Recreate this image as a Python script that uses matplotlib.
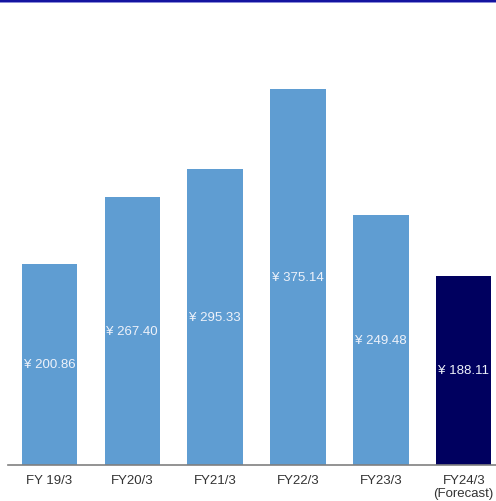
import matplotlib.pyplot as plt
from matplotlib.patches import Rectangle

plt.rcParams['font.family'] = ['Liberation Sans', 'DejaVu Sans']

years = ["FY 19/3", "FY20/3", "FY21/3", "FY22/3", "FY23/3", "FY24/3\n(Forecast)"]
dividends = [200.86, 267.40, 295.33, 375.14, 249.48, 188.11]
colors = ["#5f9dd2"] * 5 + ["#00005f"]

fig = plt.figure(figsize=(4.96, 5.02), dpi=100)
ax = fig.add_axes([8 / 496, 36.5 / 502, 488 / 496, 461 / 502])

x = range(len(years))
bars = ax.bar(x, dividends, width=0.67, color=colors)

for b, v in zip(bars, dividends):
    ax.text(b.get_x() + b.get_width() / 2, v / 2, "¥ %.2f" % v,
            ha="center", va="center", color="#eef2fa", fontsize=9.5)

ax.set_xlim(-0.5, 5.39)
ax.set_ylim(0, 461)
ax.set_xticks(list(x))
ax.set_xticklabels(years, fontsize=9.5, color="#333333", linespacing=1.1,
                   va="top")
ax.tick_params(axis="x", length=0, pad=7)
ax.set_yticks([])
for s in ["top", "right", "left"]:
    ax.spines[s].set_visible(False)
ax.spines["bottom"].set_color("#808080")
ax.spines["bottom"].set_linewidth(1.2)

# header rule
fig.add_artist(Rectangle((0, 1 - 3 / 502), 1, 3 / 502, transform=fig.transFigure,
                         color="#1414a0", lw=0))
fig.add_artist(Rectangle((0, 1 - 4 / 502), 1, 1 / 502, transform=fig.transFigure,
                         color="#8c8cd8", lw=0))

fig.savefig("out.png", dpi=100)
